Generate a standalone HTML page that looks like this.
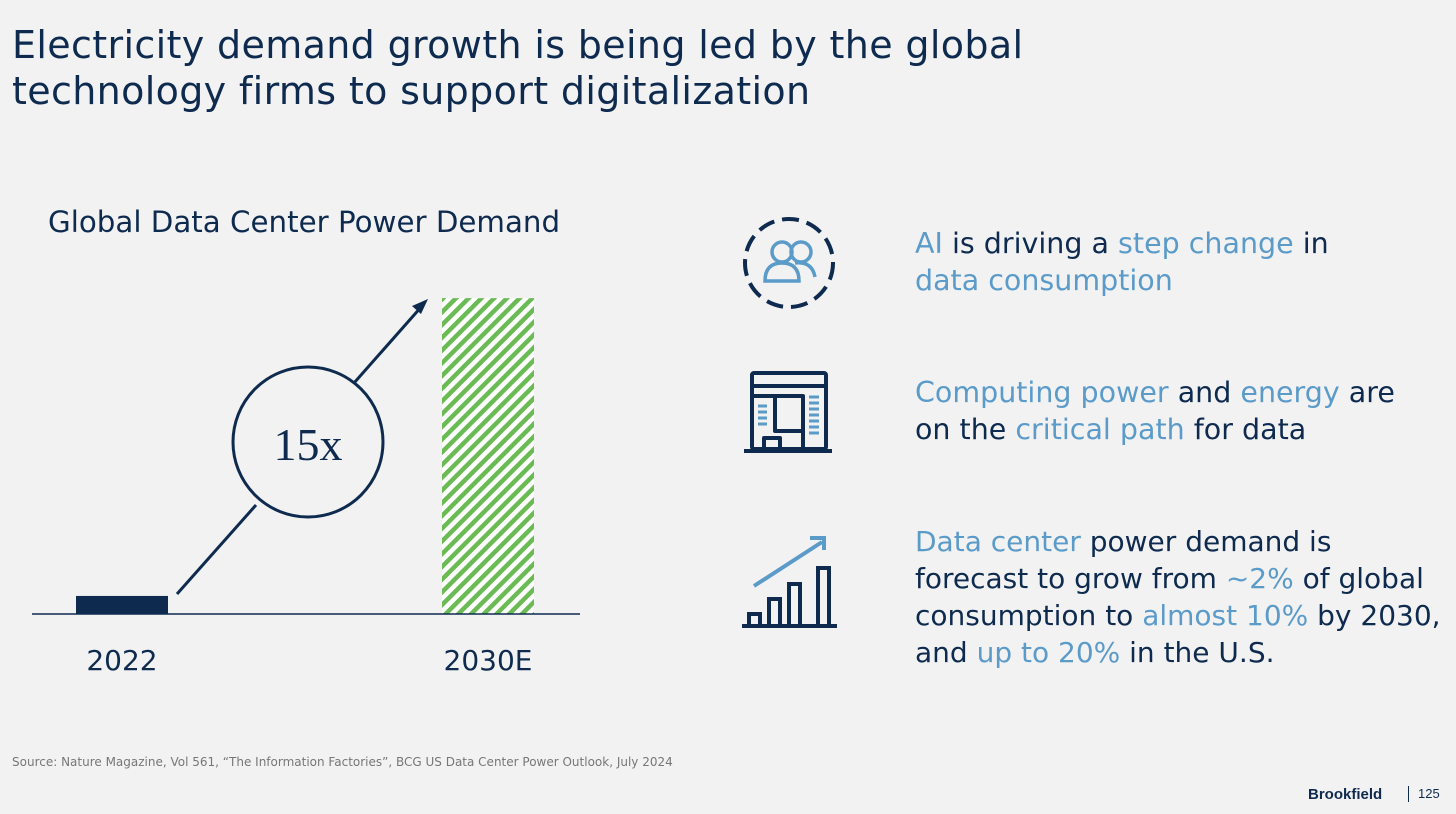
<!DOCTYPE html>
<html><head><meta charset="utf-8"><style>
body{margin:0;width:1456px;height:814px;background:#f2f2f2;position:relative;overflow:hidden;font-family:"DejaVu Sans","Liberation Sans",sans-serif;color:#0e2b4f}
.t{position:absolute}
.h{color:#5b9bc9}
.p{font-size:28.5px;line-height:37px;color:#0e2b4f;left:915px;white-space:nowrap}
</style></head><body>
<div class="t" style="left:12px;top:22px;font-size:38px;line-height:46px;color:#0e2b4f;letter-spacing:0.35px;white-space:nowrap">Electricity demand growth is being led by the global<br>technology firms to support digitalization</div>
<div class="t" style="left:48px;top:205px;font-size:29.3px;white-space:nowrap">Global Data Center Power Demand</div>
<svg class="t" style="left:0;top:0" width="700" height="720">
<defs><pattern id="hatch" patternUnits="userSpaceOnUse" width="9" height="9" patternTransform="rotate(45)"><rect width="9" height="9" fill="#fff"/><rect width="4.5" height="9" fill="#6bbb55"/></pattern></defs>
<g id="bars"></g>
<line x1="32" y1="614" x2="580" y2="614" stroke="#0e2b4f" stroke-width="1.5"/>
<line x1="177" y1="594" x2="256" y2="505" stroke="#0e2b4f" stroke-width="3"/>
<line x1="354" y1="383" x2="422" y2="306" stroke="#0e2b4f" stroke-width="3"/>
<polygon points="428,299 412,306 421,314" fill="#0e2b4f"/>
<circle cx="308" cy="442" r="75" fill="none" stroke="#0e2b4f" stroke-width="3"/>
<text x="308" y="460" text-anchor="middle" font-family="Liberation Serif,serif" font-size="46" fill="#0e2b4f">15x</text>
<g id="labels"></g>
</svg>
<script>
const categories=["2022","2030E"];
const values=[1,17.5];
const centers=[122,488];
function yScale(v){return 614-v*18.05;}
const ns="http://www.w3.org/2000/svg";
const gb=document.getElementById('bars'),gl=document.getElementById('labels');
categories.forEach((c,i)=>{
 const r=document.createElementNS(ns,'rect');
 r.setAttribute('x',centers[i]-46);r.setAttribute('width',92);
 r.setAttribute('y',yScale(values[i]));r.setAttribute('height',614-yScale(values[i]));
 r.setAttribute('fill',i==0?'#0e2b4f':'url(#hatch)');
 
 
 gb.appendChild(r);
 const t=document.createElementNS(ns,'text');
 t.setAttribute('x',centers[i]);t.setAttribute('y',670);t.setAttribute('text-anchor','middle');
 t.setAttribute('font-size','28');t.setAttribute('font-family','DejaVu Sans, sans-serif');t.setAttribute('fill','#0e2b4f');t.textContent=c;
 
 
 gl.appendChild(t);
});
</script>
<svg class="t" style="left:740px;top:214px" width="100" height="100">
<circle cx="49" cy="49" r="44" fill="none" stroke="#0e2b4f" stroke-width="4" stroke-dasharray="17 8"/>
<g fill="none" stroke="#5b9bc9" stroke-width="3.5"><circle cx="42" cy="38" r="10"/><circle cx="61" cy="38" r="10"/><path d="M25 67 q0-18 17-18 q17 0 17 18z"/><path d="M55 49 q17-2 20 14"/></g></svg>
<svg class="t" style="left:742px;top:370px" width="96" height="86">
<g fill="none" stroke="#0e2b4f" stroke-width="4" stroke-linejoin="round"><rect x="10" y="3" width="74" height="76" rx="2"/><line x1="10" y1="16" x2="84" y2="16"/><path d="M10 26H61V80"/><path d="M33 26V61H61"/><rect x="22" y="68" width="16" height="12"/><line x1="2" y1="81" x2="90" y2="81"/></g>
<g stroke="#5b9bc9" stroke-width="3"><path d="M16 36h9M16 42h9M16 48h9M16 54h9M67 27h10M67 33h10M67 39h10M67 45h10M67 51h10M67 57h10M67 63h10"/></g></svg>
<svg class="t" style="left:742px;top:534px" width="100" height="100">
<g fill="none" stroke="#0e2b4f" stroke-width="4"><rect x="7" y="80" width="11" height="12"/><rect x="27" y="65" width="11" height="27"/><rect x="47" y="50" width="11" height="42"/><rect x="76" y="34" width="11" height="58"/><line x1="0" y1="92" x2="95" y2="92"/></g>
<g stroke="#5b9bc9" stroke-width="4" fill="none"><line x1="12" y1="52" x2="80" y2="8"/><path d="M68 4h14v12"/></g></svg>
<div class="t p" style="top:225px"><span class="h">AI</span> is driving a <span class="h">step change</span> in<br><span class="h">data consumption</span></div>
<div class="t p" style="top:374px"><span class="h">Computing power</span> and <span class="h">energy</span> are<br>on the <span class="h">critical path</span> for data</div>
<div class="t p" style="top:523px;font-size:28px"><span class="h">Data center</span> power demand is<br>forecast to grow from <span class="h">~2%</span> of global<br>consumption to <span class="h">almost 10%</span> by 2030,<br>and <span class="h">up to 20%</span> in the U.S.</div>
<div class="t" style="left:12px;top:755px;font-size:12px;color:#777;white-space:nowrap">Source: Nature Magazine, Vol 561, “The Information Factories”, BCG US Data Center Power Outlook, July 2024</div>
<div class="t" style="left:1308px;top:786px;font-size:15px;font-weight:bold;color:#0e2b4f;font-family:'Liberation Sans',sans-serif">Brookfield</div>
<div class="t" style="left:1408px;top:786px;font-size:13px;color:#0e2b4f;border-left:1px solid #0e2b4f;padding-left:9px;line-height:16px;font-family:'Liberation Sans',sans-serif">125</div>
</body></html>
